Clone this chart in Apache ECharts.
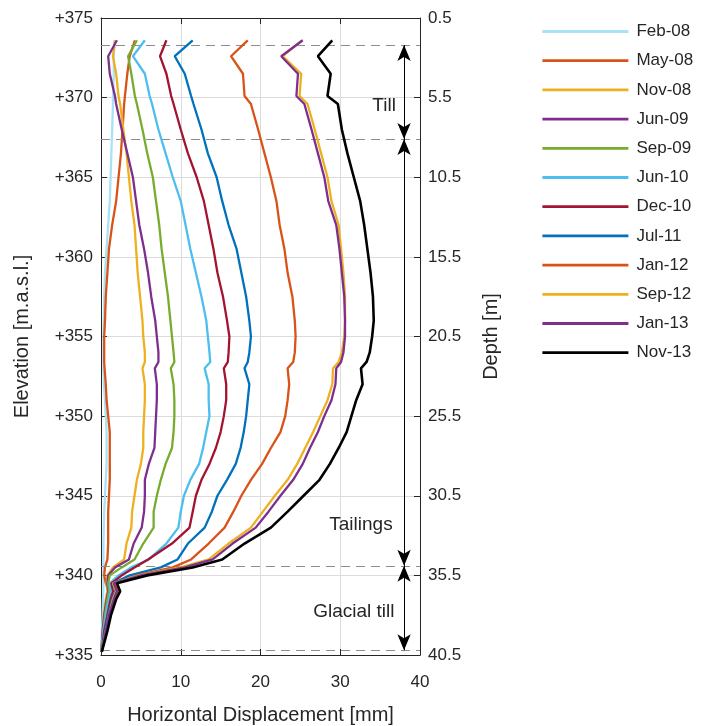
<!DOCTYPE html>
<html>
<head>
<meta charset="utf-8">
<script src="https://cdn.jsdelivr.net/npm/echarts@6/dist/echarts.min.js"></script>
<style>
  html, body { margin: 0; padding: 0; background: #fff; }
  #chart { width: 705px; height: 726px; }
</style>
</head>
<body>
<div id="chart"></div>
<script>
// elevation of each reading [m.a.s.l.]
const elevations = [373.6, 372.6, 371.5, 370.1, 369.6, 368, 366.5, 365, 363.5, 362, 360.5, 359, 357.5, 356, 355, 354, 353.4, 353, 352, 351, 350, 349, 348, 347, 346, 345, 344, 343, 342, 341, 340.5, 340, 339.5, 339, 338.5, 337.5, 336.5, 335.2];

// horizontal displacement [mm] per survey
const feb08 = [1.7, 1.6, 1.6, 1.5, 1.5, 1.4, 1.3, 1.2, 1.1, 0.9, 0.7, 0.5, 0.4, 0.35, 0.3, 0.3, 0.3, 0.3, 0.35, 0.5, 0.6, 0.7, 0.7, 0.7, 0.6, 0.5, 0.4, 0.35, 0.3, 0.3, 0.3, 0.3, 0.3, 0.3, 0.25, 0.2, 0.1, 0];
const may08 = [4.25, 3.6, 3.3, 3.0, 2.9, 2.7, 2.5, 2.2, 1.9, 1.4, 1.0, 0.8, 0.6, 0.5, 0.4, 0.4, 0.4, 0.45, 0.6, 0.7, 0.9, 1.1, 1.1, 1.1, 1.1, 1.0, 0.9, 0.9, 0.9, 0.8, 0.5, 0.4, 0.6, 1.0, 0.8, 0.5, 0.3, 0.05];
const nov08 = [1.75, 1.5, 1.9, 2.2, 2.4, 2.8, 3.2, 3.5, 3.8, 4.2, 4.4, 4.6, 4.9, 5.2, 5.3, 5.5, 5.5, 5.2, 5.5, 5.5, 5.4, 5.3, 5.3, 5.0, 4.5, 4.2, 3.9, 3.8, 3.2, 2.9, 1.5, 0.8, 0.7, 0.8, 0.6, 0.35, 0.2, 0.05];
const jun09 = [2.0, 0.9, 1.1, 1.75, 1.9, 2.6, 3.3, 4.0, 4.4, 4.8, 5.4, 5.9, 6.3, 6.8, 7.0, 7.2, 7.2, 6.75, 7.0, 7.0, 6.9, 6.8, 6.7, 6.0, 5.5, 5.5, 5.4, 5.1, 4.1, 3.5, 1.75, 0.9, 0.8, 0.9, 0.7, 0.4, 0.2, 0.05];
const sep09 = [4.5, 3.4, 3.8, 4.25, 4.5, 5.2, 5.8, 6.5, 6.9, 7.3, 7.6, 8.0, 8.4, 8.7, 8.9, 9.1, 9.2, 8.75, 9.1, 9.2, 9.2, 9.1, 8.9, 8.1, 7.5, 7.0, 6.6, 6.6, 5.3, 4.2, 2.6, 1.1, 0.9, 1.0, 0.8, 0.5, 0.3, 0.05];
const jun10 = [5.5, 4.0, 5.5, 6.1, 6.4, 7.2, 8.1, 9.0, 10.0, 10.6, 11.2, 11.9, 12.6, 13.2, 13.4, 13.6, 13.7, 13.0, 13.5, 13.5, 13.6, 13.2, 12.8, 12.3, 11.2, 10.4, 10.0, 9.7, 8.2, 6.0, 3.8, 2.2, 1.1, 1.2, 1.0, 0.6, 0.3, 0.05];
const dec10 = [8.2, 7.4, 8.2, 8.8, 9.1, 10.0, 10.9, 12.0, 12.9, 13.5, 14.1, 14.6, 15.3, 15.8, 16.1, 16.0, 15.9, 15.4, 15.7, 15.7, 15.4, 15.0, 14.4, 13.6, 12.6, 11.9, 11.5, 11.1, 8.9, 5.9, 4.2, 2.6, 1.3, 1.5, 1.2, 0.8, 0.4, 0.1];
const jul11 = [11.5, 9.25, 10.5, 11.3, 11.6, 12.6, 13.4, 14.5, 15.2, 16.0, 17.0, 17.6, 18.2, 18.6, 18.8, 18.6, 18.4, 18.0, 18.6, 18.4, 18.2, 17.9, 17.5, 16.9, 15.8, 14.6, 13.9, 13.0, 10.9, 9.6, 7.5, 3.6, 1.5, 1.8, 1.4, 0.9, 0.5, 0.1];
const jan12 = [18.4, 16.3, 17.8, 18.0, 18.8, 19.7, 20.5, 21.3, 22.0, 22.4, 23.0, 23.4, 24.0, 24.3, 24.4, 24.3, 24.1, 23.4, 23.6, 23.4, 23.1, 22.5, 21.3, 20.2, 18.8, 17.6, 16.6, 15.5, 13.5, 11.3, 9.0, 4.5, 1.8, 2.2, 1.7, 1.1, 0.6, 0.1];
const sep12 = [25.2, 22.8, 25.1, 24.9, 25.9, 26.8, 27.6, 28.4, 28.9, 29.8, 30.1, 30.4, 30.6, 30.6, 30.5, 30.2, 29.8, 29.1, 29.0, 28.4, 27.5, 26.6, 25.6, 24.6, 23.4, 21.8, 20.3, 18.8, 16.0, 13.5, 10.0, 4.8, 1.5, 1.9, 1.5, 1.0, 0.6, 0.1];
const jan13 = [25.3, 22.6, 24.7, 24.5, 25.5, 26.4, 27.2, 28.0, 28.5, 29.5, 29.9, 30.2, 30.5, 30.6, 30.6, 30.4, 30.1, 29.5, 29.4, 28.9, 28.0, 27.2, 26.2, 25.3, 24.1, 22.5, 21.0, 19.4, 16.5, 14.0, 10.5, 5.0, 1.6, 2.0, 1.6, 1.0, 0.6, 0.1];
const nov13 = [29.0, 27.2, 28.8, 28.4, 29.7, 30.2, 30.9, 31.7, 32.5, 33.0, 33.4, 33.8, 34.1, 34.2, 34.0, 33.7, 33.3, 32.6, 32.8, 32.0, 31.4, 30.8, 29.8, 28.7, 27.4, 25.4, 23.4, 21.3, 18.0, 15.2, 11.5, 5.8, 2.0, 2.4, 1.9, 1.25, 0.8, 0.1];

const surveyNames = ['Feb-08', 'May-08', 'Nov-08', 'Jun-09', 'Sep-09', 'Jun-10', 'Dec-10', 'Jul-11', 'Jan-12', 'Sep-12', 'Jan-13', 'Nov-13'];
const surveyData = [feb08, may08, nov08, jun09, sep09, jun10, dec10, jul11, jan12, sep12, jan13, nov13];
const surveyColors = ['#A9E2F7', '#D95319', '#EDB120', '#7E2F8E', '#77AC30', '#4DBEEE', '#A2142F', '#0072BD', '#D95319', '#EDB120', '#7E2F8E', '#000000'];

// soil layer boundaries [m.a.s.l.] and names
const layerBounds = [373.3, 367.4, 340.6, 335.3];
const layerNames = ['Till', 'Tailings', 'Glacial till'];

const FONT = 'Liberation Sans, Arial, sans-serif';
const INK = '#262626';

const chart = echarts.init(document.getElementById('chart'));

const lineSeries = surveyNames.map((name, i) => ({
  name: name,
  type: 'line',
  symbol: 'none',
  z: 2 + i,
  lineStyle: { color: surveyColors[i], width: i === 11 ? 2.6 : 2.3 },
  itemStyle: { color: surveyColors[i] },
  data: elevations.map((e, k) => [surveyData[i][k], e])
}));

// dashed boundaries, double arrows and layer names
const annoSeries = {
  name: 'layers',
  type: 'line',
  data: [],
  silent: true,
  markLine: {
    silent: true,
    symbol: ['none', 'none'],
    label: { show: false },
    data: [
      ...layerBounds.map(b => ({
        yAxis: b,
        lineStyle: { color: '#8c8c8c', type: [9, 6], width: 1 }
      })),
      ...layerNames.map((n, i) => [
        { coord: [38, layerBounds[i]], symbol: 'arrow', symbolSize: [10, 16], lineStyle: { color: '#000', type: 'solid', width: 1 } },
        { coord: [38, layerBounds[i + 1]], symbol: 'arrow', symbolSize: [10, 16] }
      ])
    ]
  },
  markPoint: {
    silent: true,
    symbol: 'rect',
    symbolSize: 1,
    itemStyle: { color: 'rgba(0,0,0,0)' },
    label: { show: true, formatter: p => p.name, color: INK, fontSize: 19, fontFamily: FONT },
    data: [
      { name: layerNames[0], coord: [35.5, 369.5] },
      { name: layerNames[1], coord: [32.6, 343.2] },
      { name: layerNames[2], coord: [31.7, 337.7] }
    ]
  }
};

const option = {
  animation: false,
  backgroundColor: '#ffffff',
  textStyle: { fontFamily: FONT },
  grid: { left: 101, right: 285, top: 18, bottom: 71, containLabel: false, outerBoundsMode: 'none' },
  legend: {
    orient: 'vertical',
    left: 536,
    top: 18,
    itemWidth: 86,
    itemHeight: 14,
    itemGap: 12.2,
    data: surveyNames,
    itemStyle: { opacity: 0 },
    lineStyle: { width: 2.8 },
    textStyle: { color: INK, fontSize: 17, lineHeight: 14, fontFamily: FONT, padding: [0, 0, 0, 3] }
  },
  xAxis: [{
    type: 'value',
    min: 0, max: 40, interval: 10,
    name: 'Horizontal Displacement [mm]',
    nameLocation: 'middle',
    nameGap: 50,
    nameTextStyle: { color: INK, fontSize: 20, fontFamily: FONT },
    axisLine: { show: true, lineStyle: { color: INK, width: 1 } },
    axisTick: { show: true, inside: true, length: 6, lineStyle: { color: INK } },
    axisLabel: { color: INK, fontSize: 17, margin: 19 },
    splitLine: { show: true, lineStyle: { color: '#dcdcdc', width: 1 } }
  }, {
    type: 'value', position: 'top',
    min: 0, max: 40, interval: 10,
    axisLine: { show: true, onZero: false, lineStyle: { color: INK, width: 1 } },
    axisTick: { show: true, inside: true, length: 6, lineStyle: { color: INK } },
    axisLabel: { show: false },
    splitLine: { show: false }
  }],
  yAxis: [{
    type: 'value',
    min: 335, max: 375, interval: 5,
    name: 'Elevation [m.a.s.l.]',
    nameLocation: 'middle',
    nameRotate: 90,
    nameGap: 69,
    nameTextStyle: { color: INK, fontSize: 20, fontFamily: FONT },
    axisLine: { show: true, lineStyle: { color: INK, width: 1 } },
    axisTick: { show: true, inside: true, length: 6, lineStyle: { color: INK } },
    axisLabel: { color: INK, fontSize: 17, margin: 8, formatter: v => '+' + v },
    splitLine: { show: true, lineStyle: { color: '#dcdcdc', width: 1 } }
  }, {
    type: 'value', position: 'right',
    min: 335, max: 375, interval: 5,
    name: 'Depth [m]',
    nameLocation: 'middle',
    nameRotate: 90,
    nameGap: 61,
    nameTextStyle: { color: INK, fontSize: 20, fontFamily: FONT },
    axisLine: { show: true, onZero: false, lineStyle: { color: INK, width: 1 } },
    axisTick: { show: true, inside: true, length: 6, lineStyle: { color: INK } },
    axisLabel: { color: INK, fontSize: 17, margin: 8, formatter: v => (375.5 - v).toFixed(1) },
    splitLine: { show: false }
  }],
  series: [...lineSeries, annoSeries]
};

chart.setOption(option);
</script>
</body>
</html>
